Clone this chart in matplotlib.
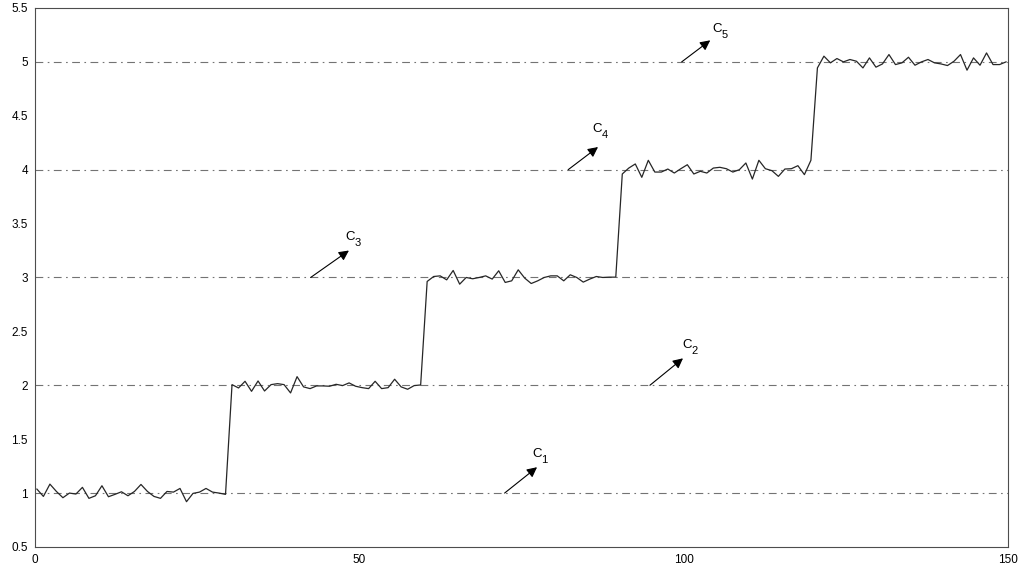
import numpy as np
import matplotlib
matplotlib.use("Agg")
import matplotlib.pyplot as plt

plt.rcParams["font.family"] = ["Liberation Sans", "DejaVu Sans"]

# niveis de referencia (clusters C1..C5)
levels = [1, 2, 3, 4, 5]

# sinal, 30 amostras por nivel
seg1 = [1.037, 0.969, 1.083, 1.015, 0.957, 1.000, 0.991, 1.053, 0.951, 0.975,
        1.068, 0.966, 0.988, 1.012, 0.975, 1.015, 1.080, 1.015, 0.969, 0.951,
        1.015, 1.009, 1.043, 0.920, 0.997, 1.009, 1.043, 1.009, 1.000, 0.988]
seg2 = [2.006, 1.975, 2.037, 1.944, 2.040, 1.947, 2.006, 2.015, 2.006, 1.929,
        2.080, 1.985, 1.969, 1.994, 1.994, 1.991, 2.009, 1.997, 2.022, 1.991,
        1.978, 1.969, 2.037, 1.969, 1.978, 2.056, 1.985, 1.963, 1.997, 2.003]
seg3 = [2.963, 3.009, 3.015, 2.978, 3.065, 2.938, 3.000, 2.988, 3.000, 3.015,
        2.985, 3.062, 2.954, 2.969, 3.071, 2.994, 2.944, 2.969, 3.000, 3.015,
        3.015, 2.969, 3.025, 3.000, 2.957, 2.985, 3.009, 3.000, 3.003, 3.003]
seg4 = [3.960, 4.015, 4.053, 3.929, 4.087, 3.978, 3.978, 4.006, 3.969, 4.009,
        4.046, 3.960, 3.985, 3.969, 4.015, 4.022, 4.009, 3.978, 4.000, 4.062,
        3.913, 4.087, 4.009, 3.991, 3.938, 4.006, 4.009, 4.037, 3.954, 4.087]
seg5 = [4.944, 5.053, 4.991, 5.031, 5.000, 5.022, 5.006, 4.944, 5.037, 4.951,
        4.981, 5.068, 4.975, 4.991, 5.043, 4.969, 5.000, 5.022, 4.991, 4.981,
        4.966, 5.006, 5.068, 4.923, 5.037, 4.969, 5.083, 4.975, 4.975, 5.000]
signal = np.array(seg1 + seg2 + seg3 + seg4 + seg5)
t = np.linspace(0.3, 149.7, len(signal))

# anotacoes: (cauda da seta, ponta da seta, posicao do texto)
labels = ["1", "2", "3", "4", "5"]
arrow_tail = [(72.4, 1.0), (94.8, 2.0), (42.5, 3.0), (82.2, 4.0), (99.7, 5.0)]
arrow_head = [(77.4, 1.24), (99.9, 2.25), (48.4, 3.25), (86.8, 4.21), (104.1, 5.2)]
text_pos = [(76.7, 1.31), (99.8, 2.32), (47.9, 3.32), (86.0, 4.32), (104.5, 5.25)]

fig = plt.figure(figsize=(10.25, 5.7), dpi=100)
ax = fig.add_axes([0.0341, 0.0404, 0.9493, 0.9456])

for lv in levels:
    ax.plot([0, 150], [lv, lv], linestyle="-.", color="0.45", lw=0.8,
            dashes=(7, 4, 1.5, 4))
ax.plot(t, signal, color="0.15", lw=0.9)

for sub, tail, head, tp in zip(labels, arrow_tail, arrow_head, text_pos):
    ax.annotate("", xy=head, xytext=tail,
                arrowprops=dict(arrowstyle="-|>", color="black", lw=0.8,
                                mutation_scale=15, shrinkA=0, shrinkB=0))
    ax.text(tp[0], tp[1], "C", fontsize=9.5, ha="left", va="bottom")
    ax.annotate(sub, xy=tp, xytext=(6.5, -3.5), textcoords="offset points",
                fontsize=8, ha="left", va="bottom")

ax.set_xlim(0, 150)
ax.set_ylim(0.5, 5.5)
ax.set_xticks([0, 50, 100, 150])
ax.set_yticks(np.arange(0.5, 5.51, 0.5))
ax.set_yticklabels(["0.5", "1", "1.5", "2", "2.5", "3", "3.5", "4", "4.5", "5", "5.5"])
ax.tick_params(length=0, labelsize=8.5, pad=5)
for s in ax.spines.values():
    s.set_color("0.3")
    s.set_linewidth(0.8)

fig.savefig("out.png", dpi=100)
